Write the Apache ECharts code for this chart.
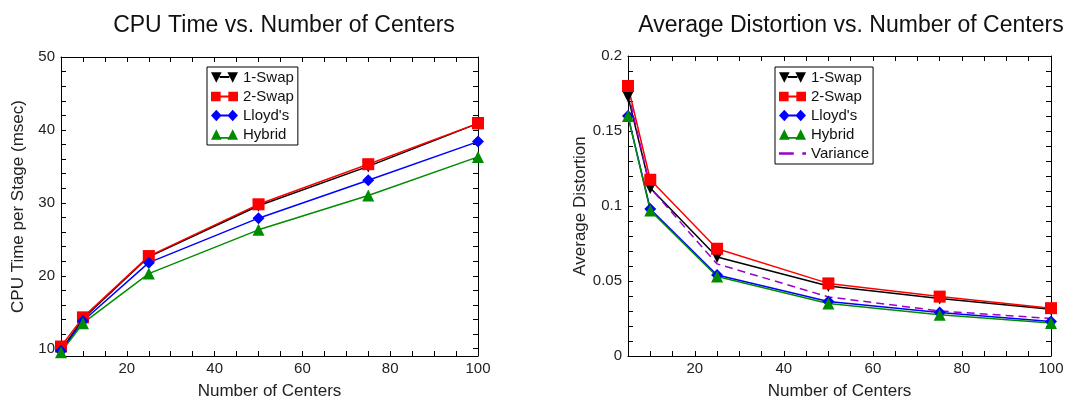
<!DOCTYPE html>
<html>
<head>
<meta charset="utf-8">
<script src="https://cdn.jsdelivr.net/npm/echarts@6/dist/echarts.min.js"></script>
<style>
  * { margin: 0; padding: 0; }
  body { background: #fff; }
  #chart { width: 1073px; height: 405px; }
</style>
</head>
<body>
<div id="chart"></div>
<script>
// number of centers
var centers = [5, 10, 25, 50, 75, 100];

// CPU time per stage (msec)
var cpuSwap1 = [9.8, 14.1, 22.6, 29.6, 35.0, 40.9];
var cpuSwap2 = [10.3, 14.3, 22.7, 29.8, 35.3, 40.9];
var cpuLloyd = [9.7, 13.8, 21.8, 27.9, 33.1, 38.4];
var cpuHybrid = [9.5, 13.5, 20.3, 26.3, 31.0, 36.3];

// average distortion
var distSwap1 = [0.173, 0.112, 0.066, 0.0466, 0.0383, 0.0312];
var distSwap2 = [0.180, 0.1175, 0.0715, 0.0484, 0.0396, 0.0319];
var distLloyd = [0.160, 0.098, 0.054, 0.0363, 0.029, 0.023];
var distHybrid = [0.160, 0.097, 0.053, 0.035, 0.0275, 0.022];
var distVariance = [0.176, 0.112, 0.0614, 0.0394, 0.030, 0.025];

// labelled ticks
var xLabels = [20, 40, 60, 80, 100];
var cpuLabels = [10, 20, 30, 40, 50];
var distLabels = [0, 0.05, 0.1, 0.15, 0.2];

var FONT = "'Liberation Sans', Arial, sans-serif";

function pairs(ys) {
  return centers.map(function (x, i) { return [x, ys[i]]; });
}

function onlyLabels(list) {
  return function (v) {
    var r = Math.round(v * 1000) / 1000;
    return list.indexOf(r) >= 0 ? String(r) : '';
  };
}

var line = { color: '#000', width: 1 };

// x axes: min 5 with interval 5, labels only at 20, 40, ...
function xAx(grid, top) {
  return {
    type: 'value', gridIndex: grid, min: 5, max: 100, interval: 5,
    position: top ? 'top' : 'bottom',
    splitLine: { show: false },
    axisLine: { lineStyle: line, onZero: false },
    axisTick: { inside: true, length: 5, lineStyle: line },
    axisLabel: {
      show: !top, formatter: onlyLabels(xLabels),
      margin: 5, fontSize: 15, color: '#222', fontFamily: FONT
    },
    name: top ? '' : 'Number of Centers',
    nameLocation: 'middle', nameGap: 27,
    nameTextStyle: { fontSize: 17, color: '#222', fontFamily: FONT }
  };
}

// y axes: tick step passed as min/max interval, so ticks land on multiples of it
function yAx(grid, right, min, max, step, labels, name) {
  return {
    type: 'value', gridIndex: grid, min: min, max: max,
    splitNumber: 25, minInterval: step, maxInterval: step,
    position: right ? 'right' : 'left',
    splitLine: { show: false },
    axisLine: { lineStyle: line, onZero: false },
    axisTick: { inside: true, length: 5, lineStyle: line },
    axisLabel: {
      show: !right, formatter: onlyLabels(labels),
      margin: 6, fontSize: 15, color: '#222', fontFamily: FONT
    },
    name: right ? '' : name,
    nameLocation: 'middle', nameGap: 34,
    nameTextStyle: { fontSize: 17, color: '#222', fontFamily: FONT }
  };
}

function ser(name, data, color, symbol, gi, extra) {
  var s = {
    name: name, type: 'line', data: pairs(data),
    xAxisIndex: gi * 2, yAxisIndex: gi * 2,
    symbol: symbol, symbolSize: 12,
    itemStyle: { color: color },
    lineStyle: { color: color, width: 1.5 },
    animation: false
  };
  if (extra) Object.assign(s, extra);
  return s;
}

// legend icons: marker - line - marker
var icons = {
  '1-Swap': 'path://M0,0H11L5.5,11Z M17,0H28L22.5,11Z M9,4H19V6H9Z',
  '2-Swap': 'path://M0,1H10V11H0Z M18,1H28V11H18Z M10,5H18V7H10Z',
  "Lloyd's": 'path://M5.5,0L11,6L5.5,12L0,6Z M22.5,0L28,6L22.5,12L17,6Z M10,5H18V7H10Z',
  'Hybrid': 'path://M5.5,0L11,11H0Z M22.5,0L28,11H17Z M9,8H19V10H9Z',
  'Variance': 'path://M0,5H12V7H0Z M19,5H22V7H19Z'
};
function legendItems(names) {
  return names.map(function (n) { return { name: n, icon: icons[n] }; });
}

var legendBase = {
  orient: 'vertical', itemWidth: 27, itemHeight: 12, itemGap: 4,
  padding: [3, 4, 3, 4], borderColor: '#000', borderWidth: 1, backgroundColor: '#fff',
  textStyle: { fontSize: 15, lineHeight: 15, color: '#111', fontFamily: FONT }
};

var chart = echarts.init(document.getElementById('chart'));
chart.setOption({
  backgroundColor: '#fff',
  animation: false,
  title: [
    { text: 'CPU Time vs. Number of Centers', left: 279, top: 9, textAlign: 'center',
      textStyle: { fontSize: 23, fontWeight: 'normal', color: '#111', fontFamily: FONT } },
    { text: 'Average Distortion vs. Number of Centers', left: 846, top: 9, textAlign: 'center',
      textStyle: { fontSize: 23, fontWeight: 'normal', color: '#111', fontFamily: FONT } }
  ],
  grid: [
    { left: 61, top: 57, width: 417, height: 302 },
    { left: 628, top: 56, width: 423, height: 303 }
  ],
  xAxis: [xAx(0, false), xAx(0, true), xAx(1, false), xAx(1, true)],
  yAxis: [
    yAx(0, false, 9, 50, 2, cpuLabels, 'CPU Time per Stage (msec)'),
    yAx(0, true, 9, 50, 2, cpuLabels, ''),
    yAx(1, false, 0, 0.2, 0.01, distLabels, 'Average Distortion'),
    yAx(1, true, 0, 0.2, 0.01, distLabels, '')
  ],
  legend: [
    Object.assign({ data: legendItems(['1-Swap', '2-Swap', "Lloyd's", 'Hybrid']),
      left: 207, top: 67 }, legendBase),
    Object.assign({ data: legendItems(['1-Swap', '2-Swap', "Lloyd's", 'Hybrid', 'Variance']),
      left: 775, top: 67 }, legendBase)
  ],
  series: [
    ser('1-Swap', cpuSwap1, '#000000', 'triangle', 0, { symbolRotate: 180 }),
    ser('2-Swap', cpuSwap2, '#ff0000', 'rect', 0),
    ser("Lloyd's", cpuLloyd, '#0000ff', 'diamond', 0),
    ser('Hybrid', cpuHybrid, '#008c00', 'triangle', 0),
    ser('1-Swap', distSwap1, '#000000', 'triangle', 1, { symbolRotate: 180 }),
    ser('2-Swap', distSwap2, '#ff0000', 'rect', 1),
    ser("Lloyd's", distLloyd, '#0000ff', 'diamond', 1),
    ser('Hybrid', distHybrid, '#008c00', 'triangle', 1),
    ser('Variance', distVariance, '#9900cc', 'none', 1,
      { lineStyle: { color: '#9900cc', width: 1.5, type: [8, 5] } })
  ]
});
window.onresize = chart.resize;
</script>
</body>
</html>
